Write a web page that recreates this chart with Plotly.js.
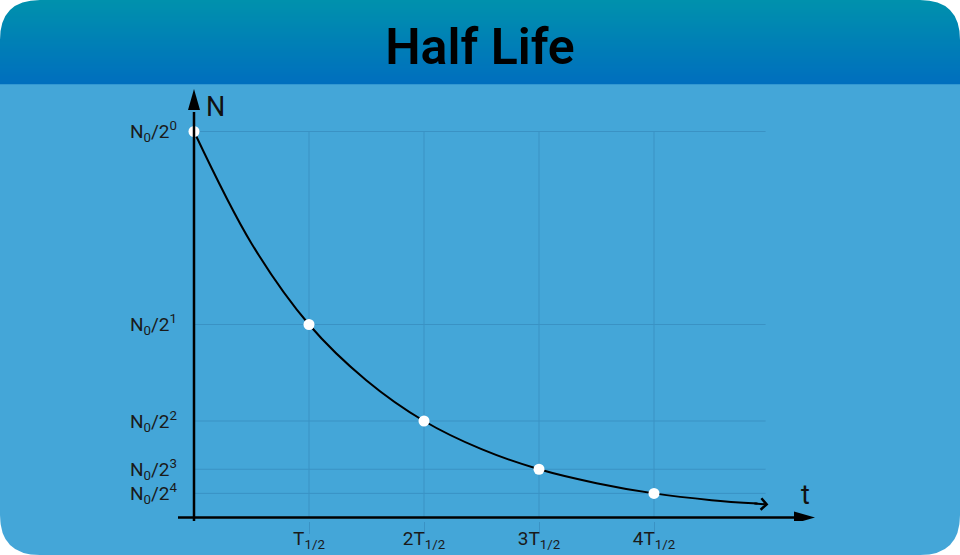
<!DOCTYPE html>
<html>
<head>
<meta charset="utf-8">
<script src="https://cdn.plot.ly/plotly-3.0.1.min.js"></script>
<style>html,body{margin:0;padding:0;background:#fff;}#chart{width:960px;height:555px;}</style>
</head>
<body>
<div id="chart"></div>
<script>
// ---- data ----
const pointT = [0, 1, 2, 3, 4];
const pointN = [1, 0.5, 0.25, 0.125, 0.0625];
const curveT = [0, 0.5, 1, 1.5, 2, 2.5, 3, 3.5, 4, 4.5, 4.9];
const curveN = [1, 0.71, 0.5, 0.355, 0.25, 0.177, 0.125, 0.089, 0.0625, 0.045, 0.036];
const xTickVals = [1, 2, 3, 4];
const xTickText = ['T<sub>1/2</sub>', '2T<sub>1/2</sub>', '3T<sub>1/2</sub>', '4T<sub>1/2</sub>'];
const yTickVals = [1, 0.5, 0.25, 0.125, 0.0625];
const yTickText = ['N<sub>0</sub>/2<sup>0</sup>', 'N<sub>0</sub>/2<sup>1</sup>', 'N<sub>0</sub>/2<sup>2</sup>', 'N<sub>0</sub>/2<sup>3</sup>', 'N<sub>0</sub>/2<sup>4</sup>'];
const titleText = 'Half Life';

// ---- layout geometry ----
const W = 960, H = 555;
const M = {l: 178, r: 135, t: 80, b: 34};
const PW = W - M.l - M.r, PH = H - M.t - M.b;
const X_RANGE = [-16 / 115, (W - M.r - 194) / 115];
const Y_RANGE = [-(H - M.b - 517.5) / 386, (517.5 - M.t) / 386];
const px = v => (v - M.l) / PW;
const py = v => (H - M.b - v) / PH;
const P = (x, y) => px(x) + ',' + py(y);

const GRID = '#3a92c4';
const BODY = '#44a6d8';
const R = 40;

const shapes = [];
// card body (rounded rect)
shapes.push({
  type: 'path', xref: 'paper', yref: 'paper', layer: 'below', line: {width: 0}, fillcolor: BODY,
  path: 'M' + P(R, 0) + ' L' + P(W - R, 0) + ' Q' + P(W, 0) + ' ' + P(W, R) +
        ' L' + P(W, H - R) + ' Q' + P(W, H) + ' ' + P(W - R, H) +
        ' L' + P(R, H) + ' Q' + P(0, H) + ' ' + P(0, H - R) +
        ' L' + P(0, R) + ' Q' + P(0, 0) + ' ' + P(R, 0) + ' Z'
});
// header gradient bands
const HB = 84, nb = 42;
const c0 = [0, 145, 173], c1 = [0, 111, 190];
for (let i = 0; i < nb; i++) {
  const f = i / (nb - 1);
  const c = c0.map((v, k) => Math.round(v + (c1[k] - v) * f));
  shapes.push({
    type: 'rect', xref: 'paper', yref: 'paper', layer: 'below', line: {width: 0},
    fillcolor: 'rgb(' + c.join(',') + ')',
    x0: px(0), x1: px(W), y0: py(HB * i / nb), y1: py(HB * (i + 1) / nb + 0.3)
  });
}
// white masks for rounded top corners
shapes.push({type: 'path', xref: 'paper', yref: 'paper', layer: 'below', line: {width: 0}, fillcolor: '#ffffff',
  path: 'M' + P(-1, -1) + ' L' + P(R, -1) + ' L' + P(R, 0) + ' Q' + P(0, 0) + ' ' + P(0, R) + ' L' + P(-1, R) + ' Z'});
shapes.push({type: 'path', xref: 'paper', yref: 'paper', layer: 'below', line: {width: 0}, fillcolor: '#ffffff',
  path: 'M' + P(W + 1, -1) + ' L' + P(W - R, -1) + ' L' + P(W - R, 0) + ' Q' + P(W, 0) + ' ' + P(W, R) + ' L' + P(W + 1, R) + ' Z'});

// grid lines
yTickVals.forEach(v => shapes.push({type: 'line', xref: 'x', yref: 'y', layer: 'below',
  x0: 0, x1: 4.97, y0: v, y1: v, line: {color: GRID, width: 1}}));
xTickVals.forEach(v => shapes.push({type: 'line', xref: 'x', yref: 'y', layer: 'below',
  x0: v, x1: v, y0: 0, y1: 1, line: {color: GRID, width: 1}}));

// axis lines with arrow heads
const xTip = (815 - 194) / 115, xBase = (794 - 194) / 115;
const yTip = (517.5 - 89) / 386, yBase = (517.5 - 110) / 386;
shapes.push({type: 'line', xref: 'x', yref: 'y', x0: X_RANGE[0], x1: xBase + 0.02, y0: 0, y1: 0, line: {color: '#000', width: 2.5}});
shapes.push({type: 'line', xref: 'x', yref: 'y', x0: 0, x1: 0, y0: Y_RANGE[0], y1: yBase - 0.005, line: {color: '#000', width: 2.5}});
shapes.push({type: 'path', xref: 'x', yref: 'y', fillcolor: '#000', line: {width: 0},
  path: 'M' + xTip + ',0 L' + xBase + ',' + (6 / 386) + ' L' + xBase + ',' + (-6 / 386) + ' Z'});
shapes.push({type: 'path', xref: 'x', yref: 'y', fillcolor: '#000', line: {width: 0},
  path: 'M0,' + yTip + ' L' + (6 / 115) + ',' + yBase + ' L' + (-6 / 115) + ',' + yBase + ' Z'});

const FONT = 'Roboto, "Open Sans", sans-serif';

const traces = [
  {x: curveT, y: curveN, type: 'scatter', mode: 'lines', line: {color: '#000', width: 2, shape: 'spline', smoothing: 1}, hoverinfo: 'skip', cliponaxis: false},
  {x: pointT, y: pointN, type: 'scatter', mode: 'markers', marker: {color: '#ffffff', size: 11, line: {width: 0}}, hoverinfo: 'skip', cliponaxis: false}
];

const layout = {
  width: W, height: H,
  margin: M,
  paper_bgcolor: '#ffffff',
  plot_bgcolor: 'rgba(0,0,0,0)',
  showlegend: false,
  title: {text: titleText, x: 0.5, xref: 'container', xanchor: 'center',
    y: 1 - 46 / H, yref: 'container', yanchor: 'middle',
    font: {family: FONT, size: 50, weight: 600, color: '#000'}},
  xaxis: {range: X_RANGE, showgrid: false, zeroline: false, showline: false,
    tickvals: xTickVals, ticktext: xTickText, ticks: 'outside', ticklen: 12, tickwidth: 1, tickcolor: GRID,
    ticklabelstandoff: -12,
    tickfont: {family: FONT, size: 19, color: '#1a1a1a'}, fixedrange: true},
  yaxis: {range: Y_RANGE, showgrid: false, zeroline: false, showline: false,
    tickvals: yTickVals, ticktext: yTickText, ticks: '',
    tickfont: {family: FONT, size: 19, color: '#1a1a1a'}, fixedrange: true},
  shapes: shapes,
  annotations: [
    {x: 4.995, y: 0.0335, ax: 4.86, ay: 0.0365, xref: 'x', yref: 'y', axref: 'x', ayref: 'y',
     text: '', showarrow: true, arrowhead: 4, arrowwidth: 2, arrowsize: 1.1, arrowcolor: '#000', standoff: 0},
    {x: 0.09, y: (517.5 - 107) / 386, xref: 'x', yref: 'y', text: 'N', showarrow: false,
     xanchor: 'left', yanchor: 'middle', font: {family: FONT, size: 27, color: '#111'}},
    {x: (805 - 194) / 115, y: (517.5 - 495) / 386, xref: 'x', yref: 'y', text: 't', showarrow: false,
     xanchor: 'center', yanchor: 'middle', font: {family: FONT, size: 27, color: '#111'}}
  ]
};

Plotly.newPlot('chart', traces, layout, {displayModeBar: false, staticPlot: true});
</script>
</body>
</html>
